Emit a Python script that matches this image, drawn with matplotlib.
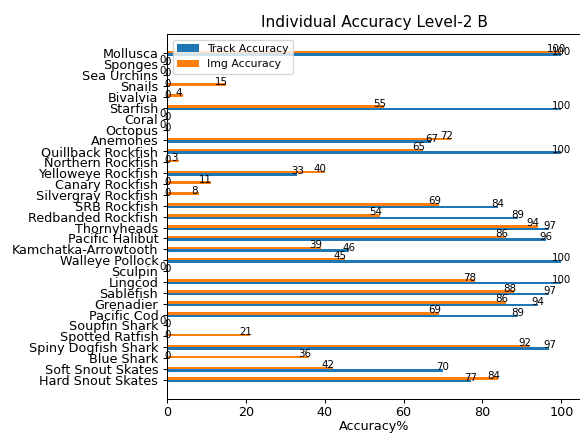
import matplotlib
matplotlib.use("Agg")
import matplotlib.pyplot as plt
import numpy as np

TITLE = "Individual Accuracy Level-2 B"

# species, listed top to bottom as they appear on the y axis
SPECIES = ["Mollusca", "Sponges", "Sea Urchins", "Snails", "Bivalvia",
           "Starfish", "Coral", "Octopus", "Anemones", "Quillback Rockfish",
           "Northern Rockfish", "Yelloweye Rockfish", "Canary Rockfish",
           "Silvergray Rockfish", "SRB Rockfish", "Redbanded Rockfish",
           "Thornyheads", "Pacific Halibut", "Kamchatka-Arrowtooth",
           "Walleye Pollock", "Sculpin", "Lingcod", "Sablefish", "Grenadier",
           "Pacific Cod", "Soupfin Shark", "Spotted Ratfish",
           "Spiny Dogfish Shark", "Blue Shark", "Soft Snout Skates",
           "Hard Snout Skates"]

TRACK = [100, 0, 0, 0, 0, 100, 0, 0, 67, 100, 0, 33, 0, 0, 84, 89, 97, 96,
         46, 100, 0, 100, 97, 94, 89, 0, 0, 97, 0, 70, 77]
IMG = [100, 0, 0, 15, 4, 55, 0, 0, 72, 65, 3, 40, 11, 8, 69, 54, 94, 86,
       39, 45, 0, 78, 88, 86, 69, 0, 21, 92, 36, 42, 84]

DPI = 92
WIDTH = 0.23

fig = plt.figure(figsize=(580 / DPI, 437 / DPI), dpi=DPI)
ax = fig.add_axes([0.2884, 0.0870, 0.7133, 0.8346])

y = np.arange(len(SPECIES))[::-1]
ax.barh(y - WIDTH / 2, TRACK, WIDTH, label="Track Accuracy")
ax.barh(y + WIDTH / 2, IMG, WIDTH, label="Img Accuracy")

# value labels at the end of every bar
for yi, t, m in zip(y, TRACK, IMG):
    ax.text(t, yi - WIDTH / 2, str(t), ha="center", fontsize=8)
    ax.text(m - 1.2, yi + WIDTH / 2, str(m), ha="center", fontsize=8)

ax.set_yticks(y)
ax.set_yticklabels(SPECIES)
ax.tick_params(axis="x", pad=2)
ax.set_xlabel("Accuracy%", labelpad=1)
ax.set_title(TITLE)
ax.legend(loc="upper left", fontsize=8.5)

fig.savefig("out.png", dpi=DPI)
